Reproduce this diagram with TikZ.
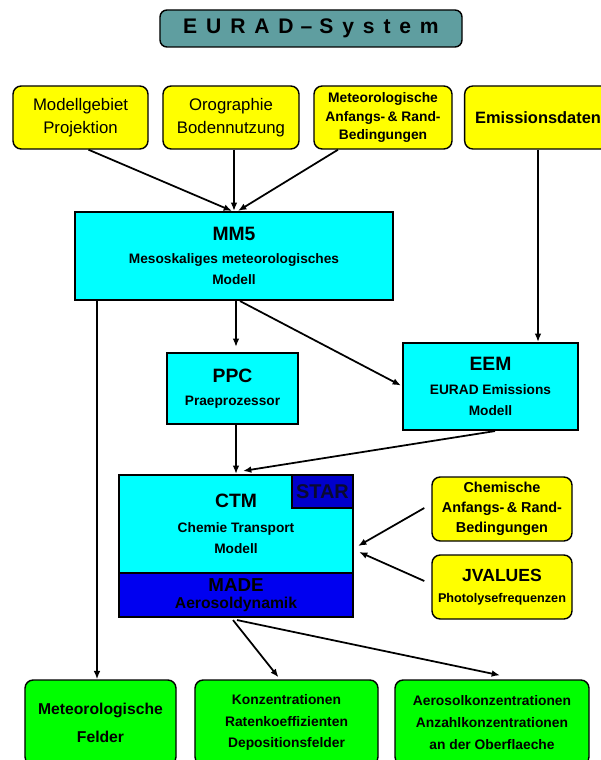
\documentclass[tikz,border=0pt]{standalone}
\usepackage{fontspec}
\setmainfont{Liberation Sans}
\usepackage{tikz}
\usepackage{xcolor}
\usetikzlibrary{arrows.meta,positioning,calc}
\definecolor{TitleTeal}{HTML}{5F9EA0}
\definecolor{InYellow}{HTML}{FFFF00}
\definecolor{ModCyan}{HTML}{00FFFF}
\definecolor{OutGreen}{HTML}{00FF00}
\definecolor{AeroBlue}{HTML}{0000F0}
\definecolor{StarBlue}{HTML}{0000CC}
\definecolor{StarText}{HTML}{0A0A30}
\tikzset{
  titlebox/.style={rounded corners=6pt, draw=black, fill=TitleTeal, line width=1.2pt, align=center, inner sep=0pt},
  inbox/.style={rounded corners=7pt, draw=black, fill=InYellow, line width=1.2pt, align=center, inner sep=0pt},
  modbox/.style={draw=black, fill=ModCyan, line width=1.8pt, align=center, inner sep=0pt},
  outbox/.style={rounded corners=7pt, draw=black, fill=OutGreen, line width=1.2pt, align=center, inner sep=0pt},
  arrow/.style={-{Latex[length=2.5mm,width=2mm]}, line width=1.5pt, draw=black}
}
\newcommand{\bigfont}{\fontsize{14.3}{19.5}\selectfont}
\newcommand{\midfont}{\fontsize{11.7}{18}\selectfont\bfseries}
\newcommand{\smallfont}{\fontsize{11.8}{15.7}\selectfont\bfseries}
\newcommand{\headfont}{\fontsize{16.5}{19}\selectfont\bfseries}
\newcommand{\outfont}{\fontsize{11.8}{18.7}\selectfont\bfseries}

\begin{document}
\begin{tikzpicture}[x=0.03cm, y=-0.03cm]
\useasboundingbox (0,0) rectangle (601,760);
% title
\node[titlebox, minimum width=9.06cm, minimum height=1.11cm, font=\fontsize{18}{20}\selectfont\bfseries] (title) at (311,28.5)
  {\addfontfeature{LetterSpace=42}EURAD\,\,--\,\,System};
% input data
\node[inbox, minimum width=4.05cm, minimum height=1.89cm, font=\bigfont] (gebiet) at (80.5,117.5) {Modellgebiet\\Projektion};
\node[inbox, minimum width=4.08cm, minimum height=1.89cm, font=\bigfont] (oro) at (231,117.5) {Orographie\\Bodennutzung};
\node[inbox, minimum width=4.14cm, minimum height=1.89cm, font=\smallfont] (metrand) at (383,117.5) {Meteorologische\\Anfangs-\,\& Rand-\\Bedingungen};
\node[inbox, minimum width=4.4cm, minimum height=1.89cm, font=\fontsize{14}{17}\selectfont\bfseries] (emis) at (538,117.5) {Emissionsdaten};
% models
\node[modbox, minimum width=9.54cm, minimum height=2.64cm, font=\midfont] (mm5) at (234,256)
  {{\headfont MM5}\\[1pt]Mesoskaliges meteorologisches\\Modell};
\node[modbox, minimum width=3.93cm, minimum height=2.13cm, font=\midfont] (ppc) at (232.5,388.5)
  {{\headfont PPC}\\[2pt]Praeprozessor};
\node[modbox, minimum width=5.25cm, minimum height=2.61cm, font=\midfont] (eem) at (490.5,386.5)
  {{\headfont EEM}\\[3pt]EURAD Emissions\\Modell};
\node[modbox, minimum width=7.02cm, minimum height=2.94cm, font=\midfont] (ctm) at (236,524)
  {{\headfont CTM}\\[3pt]Chemie Transport\\Modell};
\node[modbox, fill=AeroBlue, minimum width=7.02cm, minimum height=1.32cm, font=\fontsize{13.4}{15}\selectfont\bfseries] (made) at (236,595)
  {{\fontsize{16}{15}\selectfont MADE}\\Aerosoldynamik};
\node[draw=black, fill=StarBlue, line width=1.2pt, inner sep=0pt, minimum width=1.83cm, minimum height=0.99cm,
  text=StarText, font=\fontsize{17}{18}\selectfont\bfseries] (star) at (322.5,491.5) {STAR};
\node[inbox, minimum width=4.2cm, minimum height=1.92cm, font=\fontsize{12.3}{17}\selectfont\bfseries] (chemrand) at (502,509) {Chemische\\Anfangs-\,\& Rand-\\Bedingungen};
\node[inbox, minimum width=4.2cm, minimum height=1.92cm, font=\fontsize{10.8}{14}\selectfont\bfseries] (jvalues) at (502,587) {{\fontsize{15}{17}\selectfont JVALUES}\\[4pt]Photolysefrequenzen};
% results
\node[outbox, minimum width=4.53cm, minimum height=2.55cm, font=\fontsize{13.4}{22}\selectfont\bfseries] (metfeld) at (100.5,722.5) {Meteorologische\\[2pt]Felder};
\node[outbox, minimum width=5.49cm, minimum height=2.55cm, font=\outfont] (konz) at (286.5,722.5) {Konzentrationen\\Ratenkoeffizienten\\Depositionsfelder};
\node[outbox, minimum width=5.82cm, minimum height=2.55cm, font=\outfont] (aero) at (492,722.5) {Aerosolkonzentrationen\\Anzahlkonzentrationen\\an der Oberflaeche};
\coordinate (metx) at (97,0);
% connections
\draw[arrow] ($(gebiet.south)+(8,0)$) -- ($(mm5.north)+(-2,0)$);
\draw[arrow] (oro.south -| mm5.north) -- (mm5.north);
\draw[arrow] ($(metrand.south)+(-45,0)$) -- ($(mm5.north)+(4,0)$);
\draw[arrow] (emis.south) -- (emis.south |- eem.north);
\draw[arrow] ($(mm5.south)+(2,0)$) -- ($(ppc.north)+(3.5,-5)$);
\draw[arrow] ($(mm5.south)+(6,0)$) -- ($(eem.west)+(-1,-1)$);
\draw[arrow] (mm5.south -| metx) -- (metfeld.north -| metx);
\draw[arrow] ($(ppc.south)+(3.5,0)$) -- (ctm.north);
\draw[arrow] ($(eem.south)+(4.5,0)$) -- ($(ctm.north)+(7,-3)$);
\draw[arrow] ($(chemrand.west)+(-7,-1)$) -- ($(ctm.east)+(4,22)$);
\draw[arrow] ($(jvalues.west)+(-7,-6)$) -- ($(ctm.east)+(5,28)$);
\draw[arrow] ($(made.south)+(-3,2)$) -- ($(konz.north)+(-8,-2)$);
\draw[arrow] ($(made.south)+(1,2)$) -- ($(aero.north)+(8,-4)$);
\end{tikzpicture}
\end{document}
